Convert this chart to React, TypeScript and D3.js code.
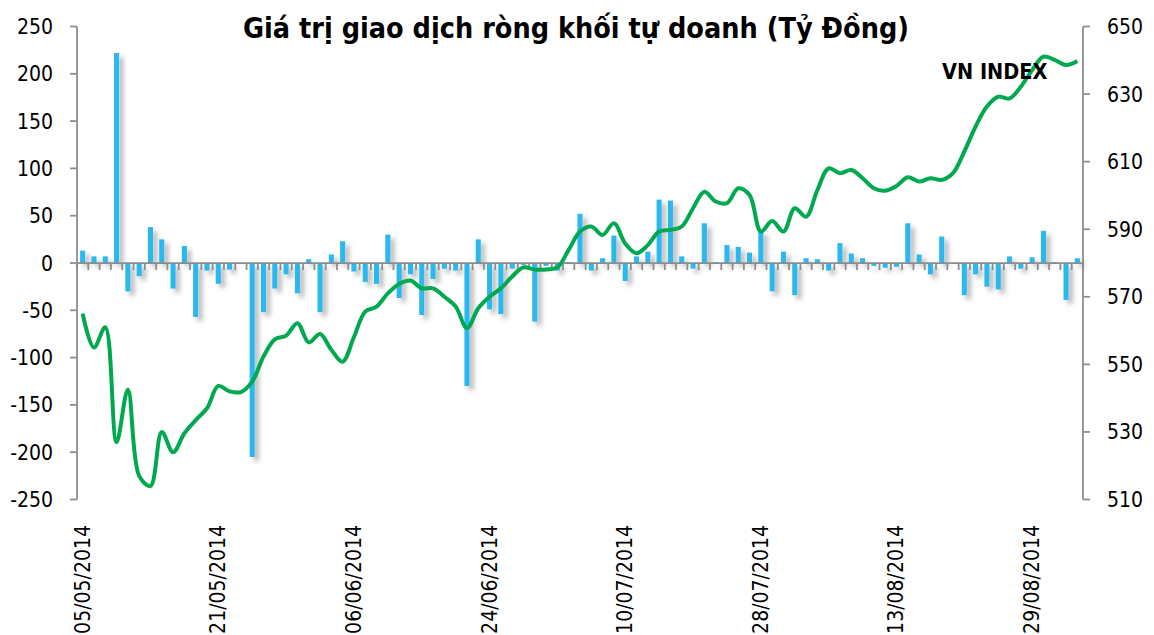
import * as React from "react";
import * as d3 from "d3";

// trading days 05/05/2014 -> 08/09/2014
const dates = [
  "05/05/2014", "06/05/2014", "07/05/2014", "08/05/2014", "09/05/2014",
  "12/05/2014", "13/05/2014", "14/05/2014", "15/05/2014", "16/05/2014",
  "19/05/2014", "20/05/2014", "21/05/2014", "22/05/2014", "23/05/2014",
  "26/05/2014", "27/05/2014", "28/05/2014", "29/05/2014", "30/05/2014",
  "02/06/2014", "03/06/2014", "04/06/2014", "05/06/2014", "06/06/2014",
  "09/06/2014", "10/06/2014", "11/06/2014", "12/06/2014", "13/06/2014",
  "16/06/2014", "17/06/2014", "18/06/2014", "19/06/2014", "20/06/2014",
  "23/06/2014", "24/06/2014", "25/06/2014", "26/06/2014", "27/06/2014",
  "30/06/2014", "01/07/2014", "02/07/2014", "03/07/2014", "04/07/2014",
  "07/07/2014", "08/07/2014", "09/07/2014", "10/07/2014", "11/07/2014",
  "14/07/2014", "15/07/2014", "16/07/2014", "17/07/2014", "18/07/2014",
  "21/07/2014", "22/07/2014", "23/07/2014", "24/07/2014", "25/07/2014",
  "28/07/2014", "29/07/2014", "30/07/2014", "31/07/2014", "01/08/2014",
  "04/08/2014", "05/08/2014", "06/08/2014", "07/08/2014", "08/08/2014",
  "11/08/2014", "12/08/2014", "13/08/2014", "14/08/2014", "15/08/2014",
  "18/08/2014", "19/08/2014", "20/08/2014", "21/08/2014", "22/08/2014",
  "25/08/2014", "26/08/2014", "27/08/2014", "28/08/2014", "29/08/2014",
  "03/09/2014", "04/09/2014", "05/09/2014", "08/09/2014",
];

// net value of proprietary trading (ty dong)
const netValue = [
  13, 7, 7, 222, -30, -14, 38, 25, -27, 18,
  -57, -8, -22, -7, 0, -205, -52, -27, -12, -32,
  4, -52, 9, 23, -9, -20, -22, 30, -37, -12,
  -55, -17, -6, -8, -130, 25, -49, -54, -6, -2,
  -62, -3, -8, 1, 52, -8, 5, 29, -19, 7,
  12, 67, 66, 7, -6, 42, 1, 19, 17, 11,
  34, -30, 12, -34, 5, 4, -8, 21, 10, 5,
  -3, -5, -4, 42, 9, -12, 28, 0, -34, -12,
  -25, -28, 7, -6, 6, 34, 1, -39, 5,
];

// VN Index
const vnIndex = [
  565, 555, 561, 527, 542.5, 517, 514, 530, 524, 529.6,
  533.5, 537, 543.6, 542, 541.8, 544.9, 552.3, 557.4, 558.5, 562.2,
  556.5, 559, 554.3, 550.8, 558.1, 565.6, 567.1, 571, 573.8, 574.8,
  572.5, 572.5, 570, 567.1, 560.7, 566.6, 570, 572.5, 576, 578.7,
  578.1, 578.1, 578.7, 583.9, 589.3, 590.8, 588.3, 591.8, 585.8, 582.9,
  585.3, 589.3, 589.8, 590.8, 596.2, 601.1, 598.2, 597.7, 602.1, 600.1,
  589.3, 592.4, 589.3, 596.2, 593.7, 601.6, 608, 606.6, 607.5, 605.1,
  602.1, 601.4, 602.8, 605.4, 604.1, 605.1, 604.6, 606.6, 613, 620.4,
  626.3, 629.2, 628.7, 632.2, 637.1, 641.1, 640.1, 638.6, 639.8,
];

const leftTicks = [250, 200, 150, 100, 50, 0, -50, -100, -150, -200, -250];
const rightTicks = [650, 630, 610, 590, 570, 550, 530, 510];

const W = 1154;
const H = 635;
const left = 77;
const right = 1083;
const top = 26.5;
const bottom = 499.5;
const font = "'DejaVu Sans Condensed', 'DejaVu Sans', sans-serif";

export default function App() {
  const x = d3
    .scaleBand<string>()
    .domain(dates)
    .range([left, right])
    .paddingInner(0.55)
    .paddingOuter(0.275);
  const step = x.step();

  const yL = d3.scaleLinear().domain([-250, 250]).range([bottom, top]);
  const yR = d3.scaleLinear().domain([510, 650]).range([bottom, top]);

  const line = d3
    .line<number>()
    .x((d, i) => (x(dates[i]) as number) + x.bandwidth() / 2)
    .y((d) => yR(d))
    .curve(d3.curveCatmullRom.alpha(0.5));

  const axisColor = "#8c8c8c";
  const zero = yL(0);

  return (
    <svg
      width={W}
      height={H}
      style={{ position: "absolute", left: 0, top: 0, background: "#fff" }}
      fontFamily={font}
      fontStretch="condensed"
    >
      <defs>
        <filter id="shadow" x="-100%" y="-20%" width="400%" height="160%">
          <feDropShadow dx={4} dy={4} stdDeviation={2.5} floodColor="#000" floodOpacity={0.3} />
        </filter>
      </defs>

      <text x={576} y={38} textAnchor="middle" fontSize={28.5} fontWeight="bold">
        Giá trị giao dịch ròng khối tự doanh (Tỷ Đồng)
      </text>

      {/* left axis */}
      <line x1={left} x2={left} y1={top} y2={bottom} stroke={axisColor} strokeWidth={1.75} />
      {leftTicks.map((t) => (
        <g key={"l" + t} transform={`translate(0, ${yL(t)})`}>
          <line x1={left - 7} x2={left} stroke={axisColor} strokeWidth={1.75} />
          <text x={53} y={0} dy="0.36em" textAnchor="end" fontSize={21}>
            {t}
          </text>
        </g>
      ))}

      {/* right axis */}
      <line x1={right} x2={right} y1={top} y2={bottom} stroke={axisColor} strokeWidth={1.75} />
      {rightTicks.map((t) => (
        <g key={"r" + t} transform={`translate(0, ${yR(t)})`}>
          <line x1={right} x2={right + 7} stroke={axisColor} strokeWidth={1.75} />
          <text x={1107} y={0} dy="0.36em" textAnchor="start" fontSize={21}>
            {t}
          </text>
        </g>
      ))}

      {/* bars */}
      <g filter="url(#shadow)">
        {netValue.map((v, i) => (
          <rect
            key={"b" + i}
            x={x(dates[i])}
            width={x.bandwidth()}
            y={Math.min(yL(v), zero)}
            height={Math.abs(yL(v) - zero)}
            fill="#2bb8ef"
          />
        ))}
      </g>

      {/* category axis at zero */}
      <line x1={left} x2={right} y1={zero} y2={zero} stroke={axisColor} strokeWidth={1.75} />
      {d3.range(dates.length + 1).map((k) => (
        <line
          key={"t" + k}
          x1={left + k * step}
          x2={left + k * step}
          y1={zero}
          y2={zero + 7}
          stroke={axisColor}
          strokeWidth={1.75}
        />
      ))}

      <path d={line(vnIndex) || ""} fill="none" stroke="#00a94f" strokeWidth={4} />

      <text x={942} y={79} fontSize={21.5} fontWeight="bold">
        VN INDEX
      </text>

      {dates.map((d, i) =>
        i % 12 === 0 ? (
          <text
            key={"d" + i}
            transform={`translate(${(x(d) as number) + x.bandwidth() / 2 + 7}, 525) rotate(-90)`}
            textAnchor="end"
            fontSize={21}
          >
            {d}
          </text>
        ) : null
      )}
    </svg>
  );
}
